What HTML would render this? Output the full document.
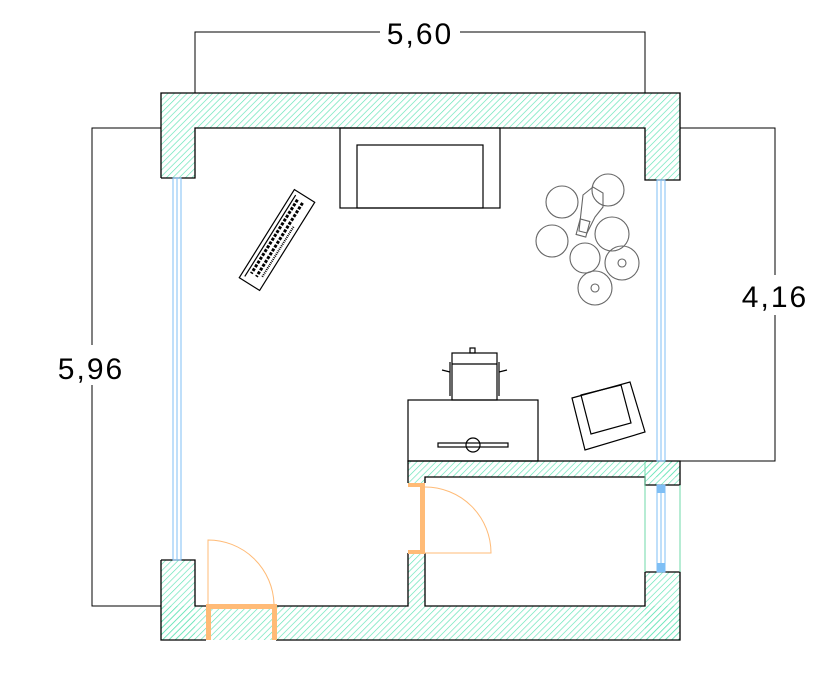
<!DOCTYPE html>
<html><head><style>html,body{margin:0;padding:0;background:#fff}svg{display:block}</style></head><body>
<svg width="822" height="675" viewBox="0 0 822 675" xmlns="http://www.w3.org/2000/svg">
<defs>
<pattern id="h" width="4.5" height="4.5" patternUnits="userSpaceOnUse" patternTransform="rotate(45)">
<line x1="0" y1="0" x2="0" y2="4.5" stroke="#5fe3b5" stroke-width="1.3"/>
</pattern>
</defs>
<g fill="url(#h)" stroke="none">
<rect x="161" y="93" width="519" height="35"/>
<rect x="161" y="128" width="34" height="50"/>
<rect x="645" y="128" width="35" height="52"/>
<rect x="161" y="560" width="34" height="80"/>
<rect x="161" y="606" width="519" height="34"/>
<rect x="408" y="461" width="272" height="16"/>
<rect x="645" y="461" width="35" height="24"/>
<rect x="645" y="572" width="35" height="68"/>
<rect x="408" y="553" width="17" height="53"/>
<rect x="408" y="477" width="17" height="6"/>
</g>
<g fill="none" stroke="#000" stroke-width="1.3">
<polyline points="161,178 161,93 680,93 680,180 645,180 645,128 195,128 195,178 161,178"/>
<polyline points="161,560 195,560 195,606 206,606"/>
<polyline points="161,560 161,640 206,640"/>
<polyline points="276,606 408,606 408,553"/>
<polyline points="276,640 680,640 680,572 645,572"/>
<polyline points="425,553 425,606 645,606 645,572"/>
<polyline points="408,483 408,461 680,461 680,485 645,485 645,477 425,477 425,483"/>
</g>
<g stroke="#6fd8a8" stroke-width="1" fill="none">
<line x1="645" y1="485" x2="645" y2="572"/>
<line x1="680" y1="485" x2="680" y2="572"/>
<line x1="645" y1="461" x2="645" y2="485"/>
</g>
<g stroke="#000" stroke-width="1" fill="none">
<polyline points="195,93 195,32 380,32"/>
<polyline points="460,32 645,32 645,93"/>
<polyline points="161,128 92,128 92,345"/>
<polyline points="92,385 92,606 161,606"/>
<polyline points="680,128 775,128 775,275"/>
<polyline points="775,315 775,461 680,461"/>
</g>
<g font-family="Liberation Sans, sans-serif" font-size="30" fill="#000">
<text x="420" y="44" text-anchor="middle" letter-spacing="2">5,60</text>
<text x="91" y="379" text-anchor="middle" letter-spacing="2">5,96</text>
<text x="775" y="307" text-anchor="middle" letter-spacing="2">4,16</text>
</g>
<g stroke="#7fbff5" stroke-width="1" fill="none">
<rect x="173" y="178" width="8" height="382"/>
<line x1="177" y1="178" x2="177" y2="560"/>
<rect x="657" y="180" width="8" height="281"/>
<line x1="661" y1="180" x2="661" y2="461"/>
<rect x="657" y="485" width="8" height="87"/>
<line x1="661" y1="485" x2="661" y2="572"/>
</g>
<rect x="657" y="485" width="8" height="8" fill="#7fbff5"/>
<rect x="657" y="563" width="8" height="9" fill="#7fbff5"/>
<g fill="#ffbb77">
<rect x="206" y="606" width="5" height="34"/>
<rect x="272" y="606" width="5" height="34"/>
<rect x="206" y="604" width="71" height="5"/>
<rect x="408" y="483" width="17" height="4"/>
<rect x="408" y="550" width="17" height="4"/>
<rect x="420" y="483" width="5" height="71"/>
</g>
<g stroke="#ffbb77" stroke-width="1" fill="none">
<path d="M208,604 L208,540 A66,66 0 0 1 274,604"/>
<path d="M425,553 L491,553 A66,66 0 0 0 425,487"/>
</g>
<g stroke="#000" stroke-width="1.2" fill="none">
<rect x="340" y="128" width="160" height="80"/>
<rect x="357" y="145" width="126" height="63"/>
<rect x="408" y="400" width="130" height="61"/>
<rect x="438" y="443" width="70" height="4"/>
<circle cx="473" cy="445" r="7"/>
<rect x="452" y="353" width="45" height="47"/>
<line x1="452" y1="364" x2="497" y2="364"/>
<rect x="470" y="348" width="5" height="5"/>
<line x1="450" y1="362" x2="450" y2="396"/>
<line x1="499" y1="362" x2="499" y2="396"/>
<path d="M450,372 l-8,-2 M499,372 l8,-2"/>
<polygon points="572,398 630,382 645,432 585,450"/>
<polygon points="581,395 621,385 631,423 591,434"/>
<g transform="translate(277,240) rotate(32)">
<rect x="-12" y="-52" width="24" height="104"/>
<line x1="-8" y1="-48" x2="-8" y2="48"/>
<g stroke-width="3"><line x1="-4" y1="-45" x2="-4" y2="42" stroke-dasharray="3,1.5"/><line x1="2" y1="-45" x2="2" y2="42" stroke-dasharray="3,1.5"/></g>
<line x1="7" y1="-20" x2="7" y2="40" stroke-width="2" stroke-dasharray="1,1"/>
</g>
</g>
<g stroke="#666" stroke-width="1.1" fill="none">
<circle cx="562" cy="202" r="16"/>
<circle cx="608" cy="190" r="16"/>
<circle cx="552" cy="241" r="16"/>
<circle cx="612" cy="234" r="17"/>
<circle cx="585" cy="258" r="15"/>
<circle cx="622" cy="263" r="17"/>
<circle cx="595" cy="288" r="17"/>
<circle cx="622" cy="263" r="4"/><circle cx="595" cy="288" r="4"/>
<path d="M583,195 l10,-8 10,6 0,14 -8,10 -8,16 -8,-2z"/>
<rect x="578" y="220" width="10" height="16" transform="rotate(15 583 228)"/>
</g>
</svg>
</body></html>
